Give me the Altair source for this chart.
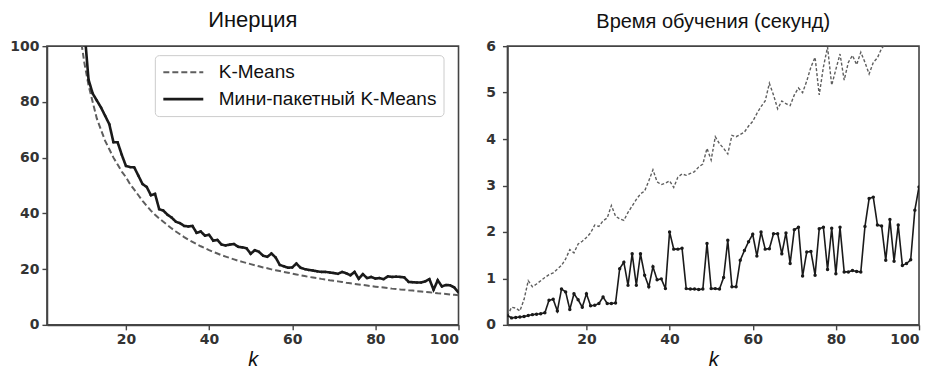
import altair as alt
import pandas as pd

k_values = list(range(1, 101))

series_names = ["K-Means", "Мини-пакетный K-Means"]

kmeans_inertia = [None] * 8 + [
    104, 94, 86, 80, 74, 70, 66, 63, 60, 57.5,
    55, 53, 50.5, 48.5, 46.5, 44.5, 42.7, 41, 39.5, 38.2,
    37, 35.8, 34.6, 33.5, 32.5, 31.5, 30.6, 29.8, 29, 28.2,
    27.5, 26.8, 26.2, 25.6, 25.0, 24.5, 24.0, 23.5, 23.0, 22.6,
    22.2, 21.8, 21.4, 21.0, 20.6, 20.3, 19.9, 19.6, 19.3, 19.0,
    18.7, 18.4, 18.1, 17.8, 17.5, 17.2, 17.0, 16.8, 16.5, 16.3,
    16.0, 15.8, 15.6, 15.4, 15.1, 14.9, 14.7, 14.5, 14.3, 14.1,
    13.9, 13.7, 13.5, 13.4, 13.2, 13.0, 12.9, 12.7, 12.6, 12.4,
    12.3, 12.1, 12.0, 11.8, 11.7, 11.5, 11.3, 11.2, 11.1, 10.9,
    10.8, 10.6,
]

minibatch_inertia = [None] * 9 + [
    106, 88, 83, 80.5, 78, 75, 72, 65.5, 65.5, 61,
    57, 56.6, 56.5, 53.5, 50.5, 49.5, 46.5, 47, 41.5, 41,
    39.5, 38.5, 37, 36.5, 35.5, 35.3, 35.5, 33, 33.5, 32,
    32.3, 30.2, 30.5, 28.8, 28.5, 28.8, 29, 28, 27.8, 27.5,
    25.5, 26.8, 26.2, 24.8, 24.4, 25.6, 24.2, 21.5, 21.0, 20.5,
    20.6, 22.0, 20.5, 20.0, 19.7, 19.5, 19.2, 19.0, 19.0, 18.8,
    18.6, 18.3, 19.0, 18.5, 17.8, 19.0, 16.5, 18.2, 16.8, 17.2,
    16.6, 16.8, 16.4, 17.4, 17.2, 17.3, 17.2, 17.0, 15.4, 15.3,
    15.2, 15.2, 15.6, 16.4, 12.6, 16.0, 13.8, 14.3, 14.2, 13.4,
    11.6,
]

kmeans_time = [
    0.20, 0.38, 0.36, 0.30, 0.55, 0.95, 0.82, 0.88, 0.95, 1.02,
    1.08, 1.12, 1.20, 1.28, 1.42, 1.62, 1.55, 1.74, 1.80, 1.88,
    1.98, 2.15, 2.12, 2.24, 2.30, 2.57, 2.34, 2.28, 2.25, 2.42,
    2.56, 2.70, 2.82, 2.88, 3.10, 3.34, 3.08, 3.02, 3.05, 3.10,
    2.96, 3.18, 3.25, 3.22, 3.26, 3.30, 3.40, 3.46, 3.80, 3.55,
    4.05, 3.90, 3.80, 3.68, 4.08, 4.05, 4.10, 4.15, 4.28, 4.38,
    4.55, 4.70, 4.82, 5.20, 4.95, 4.65, 4.82, 4.76, 4.72, 4.95,
    5.10, 5.00, 5.25, 5.55, 5.76, 4.95, 5.55, 5.98, 5.16, 5.50,
    5.83, 5.27, 5.65, 5.80, 5.60, 5.87, 5.65, 5.40, 5.65, 5.75,
    5.95, 6.05,
] + [None] * 8

minibatch_time = [
    0.20, 0.15, 0.16, 0.17, 0.18, 0.20, 0.22, 0.23, 0.24, 0.26,
    0.53, 0.55, 0.30, 0.77, 0.71, 0.33, 0.67, 0.54, 0.38, 0.67,
    0.41, 0.42, 0.46, 0.60, 0.46, 0.46, 0.47, 1.21, 1.35, 0.85,
    1.53, 0.85, 1.53, 1.07, 0.82, 1.25, 0.97, 0.99, 0.78, 2.00,
    1.63, 1.63, 1.65, 0.78, 0.77, 0.77, 0.76, 0.77, 1.75, 0.78,
    0.78, 0.77, 1.02, 1.82, 0.82, 0.82, 1.39, 1.60, 1.79, 1.95,
    1.48, 2.00, 1.63, 1.64, 1.96, 1.96, 1.53, 1.98, 1.32, 2.05,
    2.10, 1.05, 1.57, 1.58, 1.07, 2.07, 2.10, 1.19, 2.08, 1.10,
    2.10, 1.14, 1.14, 1.17, 1.15, 1.14, 2.12, 2.72, 2.75, 2.15,
    2.13, 1.39, 2.27, 1.37, 2.15, 1.28, 1.32, 1.40, 2.47, 2.97,
]

x_ticks = [20, 40, 60, 80, 100]
inertia_ticks = [0, 20, 40, 60, 80, 100]
time_ticks = [0, 1, 2, 3, 4, 5, 6]


def long_table(a, b):
    rows = []
    for name, vals in zip(series_names, [a, b]):
        for k, v in zip(k_values, vals):
            if v is not None:
                rows.append({"k": k, "series": name, "value": v})
    return pd.DataFrame(rows)


inertia_df = long_table(kmeans_inertia, minibatch_inertia)
time_df = long_table(kmeans_time, minibatch_time)

LABEL_FONT = "DejaVu Sans"
TEXT_FONT = "Liberation Sans"
AX_COL = "#444444"


def x_axis():
    return alt.X(
        "k:Q",
        scale=alt.Scale(domain=[1, 100], nice=False, zero=False),
        axis=alt.Axis(values=x_ticks, title="k", titleFontStyle="italic",
                      titleFont=TEXT_FONT, titleFontSize=20, titleFontWeight="normal",
                      titleColor="#111", titlePadding=3, labelPadding=3),
    )


def panel(df, ymax, yticks, title, tsize, legend, dash, swidth, psize, ylabpad):
    col = alt.Color(
        "series:N",
        scale=alt.Scale(domain=series_names, range=["#5e5e5e", "#1a1a1a"]),
        legend=legend,
    )
    sd = alt.StrokeDash(
        "series:N",
        scale=alt.Scale(domain=series_names, range=[dash, [1, 0]]),
        legend=legend,
    )
    sw = alt.StrokeWidth(
        "series:N",
        scale=alt.Scale(domain=series_names, range=swidth),
        legend=None,
    )
    y = alt.Y(
        "value:Q",
        scale=alt.Scale(domain=[0, ymax], nice=False),
        axis=alt.Axis(values=yticks, title=None, labelPadding=ylabpad),
    )
    lines = alt.Chart(df).mark_line(clip=True).encode(
        x=x_axis(), y=y, color=col, strokeDash=sd, strokeWidth=sw
    )
    pts = alt.Chart(df).transform_filter(
        alt.datum.series == series_names[1]
    ).mark_circle(clip=True, size=psize, opacity=1, color="#1a1a1a").encode(
        x=x_axis(), y=y
    )
    return alt.layer(lines, pts).properties(
        width=412, height=279,
        title=alt.TitleParams(title, font=TEXT_FONT, fontSize=tsize, fontWeight="normal",
                              color="#111", anchor="middle", offset=7),
    )


legend = alt.Legend(
    orient="none", legendX=108, legendY=9, title=None,
    labelFont=TEXT_FONT, labelFontSize=19, labelColor="#111", labelLimit=0,
    symbolType="stroke", symbolSize=1600, symbolStrokeWidth=2.2,
    labelOffset=14, fillColor="white", strokeColor="#cccccc",
    padding=7, cornerRadius=4, rowPadding=7, clipHeight=20,
)

left = panel(inertia_df, 100, inertia_ticks, "Инерция", 22, legend, [6, 3], [2.0, 2.6], 6, 3)
right = panel(time_df, 6, time_ticks, "Время обучения (секунд)", 20, None, [3, 2], [1.4, 1.6], 12, 7)

chart = alt.hconcat(left, right, spacing=24).resolve_scale(
    color="independent", strokeDash="independent", strokeWidth="independent"
).resolve_legend(
    color="independent", strokeDash="independent"
).properties(
    padding={"left": 0, "top": 0, "right": 5, "bottom": 5},
    background="white",
).configure_view(
    stroke=AX_COL, strokeWidth=1.6
).configure_axis(
    grid=False, domainColor=AX_COL, domainWidth=1.6, tickColor=AX_COL, tickWidth=1.4,
    tickSize=5, labelFont=LABEL_FONT, labelFontSize=14, labelFontWeight="bold",
    labelColor="#333333",
)

chart.save("out.html", embed_options={"renderer": "svg", "actions": False})
